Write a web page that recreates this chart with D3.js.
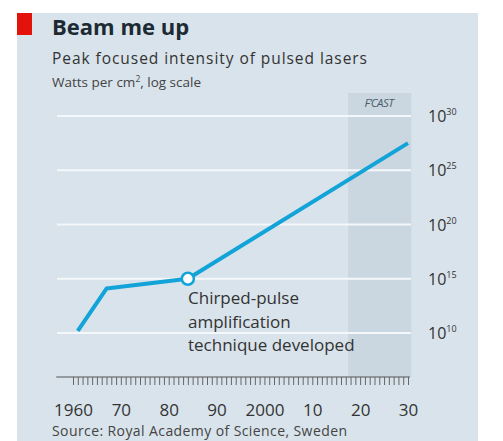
<!DOCTYPE html>
<html><head><meta charset="utf-8">
<script src="https://cdn.jsdelivr.net/npm/d3@7"></script>
<style>
body{margin:0;background:#fff;}
svg{display:block;}
text{font-family:"Open Sans","Noto Sans",sans-serif;}
</style></head>
<body>
<svg id="c" width="503" height="441"></svg>
<script>
// Data
const years = [1961, 1967, 1984, 2030];
const logIntensity = [10.2, 14.1, 15.0, 27.5]; // log10 W/cm²
const milestoneYear = 1984;
const forecastStart = 2017.5;
const yTickExponents = [10, 15, 20, 25, 30];
const xTickYears = [1960, 1970, 1980, 1990, 2000, 2010, 2020, 2030];
const xTickLabels = ["1960", "70", "80", "90", "2000", "10", "20", "30"];

const svg = d3.select("#c");
const x = d3.scaleLinear().domain([1960, 2030]).range([73, 408]);
const y = d3.scaleLog().domain([1e10, 1e30]).range([333, 116]);

// background panel
svg.append("rect").attr("x", 17).attr("y", 13).attr("width", 461).attr("height", 428).attr("fill", "#d9e3eb");
svg.append("rect").attr("x", 17).attr("y", 13).attr("width", 15).attr("height", 22).attr("fill", "#e3120b");

// forecast shading
svg.append("rect").attr("x", x(forecastStart)).attr("y", 93)
  .attr("width", x(2030.7) - x(forecastStart)).attr("height", 377 - 93)
  .attr("fill", "#cbd7e0");
svg.append("text").attr("x", 379).attr("y", 107).attr("text-anchor", "middle")
  .attr("font-size", 11.5).attr("font-style", "italic").attr("fill", "#4a5f6b")
  .attr("letter-spacing", -0.5).text("F’CAST");

// titles
svg.append("text").attr("x", 52).attr("y", 35).attr("font-size", 22).attr("font-weight", "bold")
  .attr("fill", "#1c2a33").text("Beam me up");
svg.append("text").attr("x", 52).attr("y", 64).attr("font-size", 15.5).attr("fill", "#333")
  .attr("textLength", 315).text("Peak focused intensity of pulsed lasers");
const sub = svg.append("text").attr("x", 52).attr("y", 87).attr("font-size", 13.5).attr("fill", "#444");
sub.append("tspan").text("Watts per cm");
sub.append("tspan").attr("font-size", 8.5).attr("dy", -5).text("2");
sub.append("tspan").attr("dy", 5).text(", log scale");

// gridlines
svg.append("g").selectAll("line").data(yTickExponents).join("line")
  .attr("x1", 57).attr("x2", 411)
  .attr("y1", d => y(Math.pow(10, d))).attr("y2", d => y(Math.pow(10, d)))
  .attr("stroke", "#f4f8fa").attr("stroke-width", 2);

// y labels
const yl = svg.append("g").selectAll("text").data(yTickExponents).join("text")
  .attr("x", 428).attr("y", d => y(Math.pow(10, d)) + 6)
  .attr("font-size", 16).attr("fill", "#333");
yl.append("tspan").text("10");
yl.append("tspan").attr("font-size", 9).attr("dy", -7).text(d => d);

// line
const pts = years.map((yr, i) => [yr, Math.pow(10, logIntensity[i])]);
svg.append("path").datum(pts)
  .attr("d", d3.line().x(d => x(d[0])).y(d => y(d[1])))
  .attr("fill", "none").attr("stroke", "#12a4d8").attr("stroke-width", 4)
  .attr("stroke-linejoin", "round");
const mi = years.indexOf(milestoneYear);
svg.append("circle").attr("cx", x(milestoneYear)).attr("cy", y(Math.pow(10, logIntensity[mi])))
  .attr("r", 6).attr("fill", "#fff").attr("stroke", "#12a4d8").attr("stroke-width", 2.5);

// annotation
const ann = ["Chirped-pulse", "amplification", "technique developed"];
svg.append("g").selectAll("text").data(ann).join("text")
  .attr("x", 188).attr("y", (d, i) => 304 + i * 23.5)
  .attr("font-size", 17).attr("fill", "#333").text(d => d);

// x axis
svg.append("line").attr("x1", x(1956.5)).attr("x2", x(2030.4)).attr("y1", 377).attr("y2", 377)
  .attr("stroke", "#555").attr("stroke-width", 1.2);
const axis = d3.axisBottom(x).tickValues(d3.range(1960, 2031)).tickSize(8).tickPadding(19)
  .tickFormat(d => { const k = xTickYears.indexOf(d); return k >= 0 ? xTickLabels[k] : ""; });
const ga = svg.append("g").attr("transform", "translate(0,377)").call(axis);
ga.select(".domain").remove();
ga.selectAll("line").attr("stroke", "#666").attr("stroke-width", 1);
ga.selectAll("text").attr("font-size", 17).attr("fill", "#333")
  .attr("font-family", "'Open Sans','Noto Sans',sans-serif");

// source
svg.append("text").attr("x", 52).attr("y", 436).attr("font-size", 14).attr("fill", "#444")
  .attr("textLength", 295).text("Source: Royal Academy of Science, Sweden");
</script>
</body></html>
